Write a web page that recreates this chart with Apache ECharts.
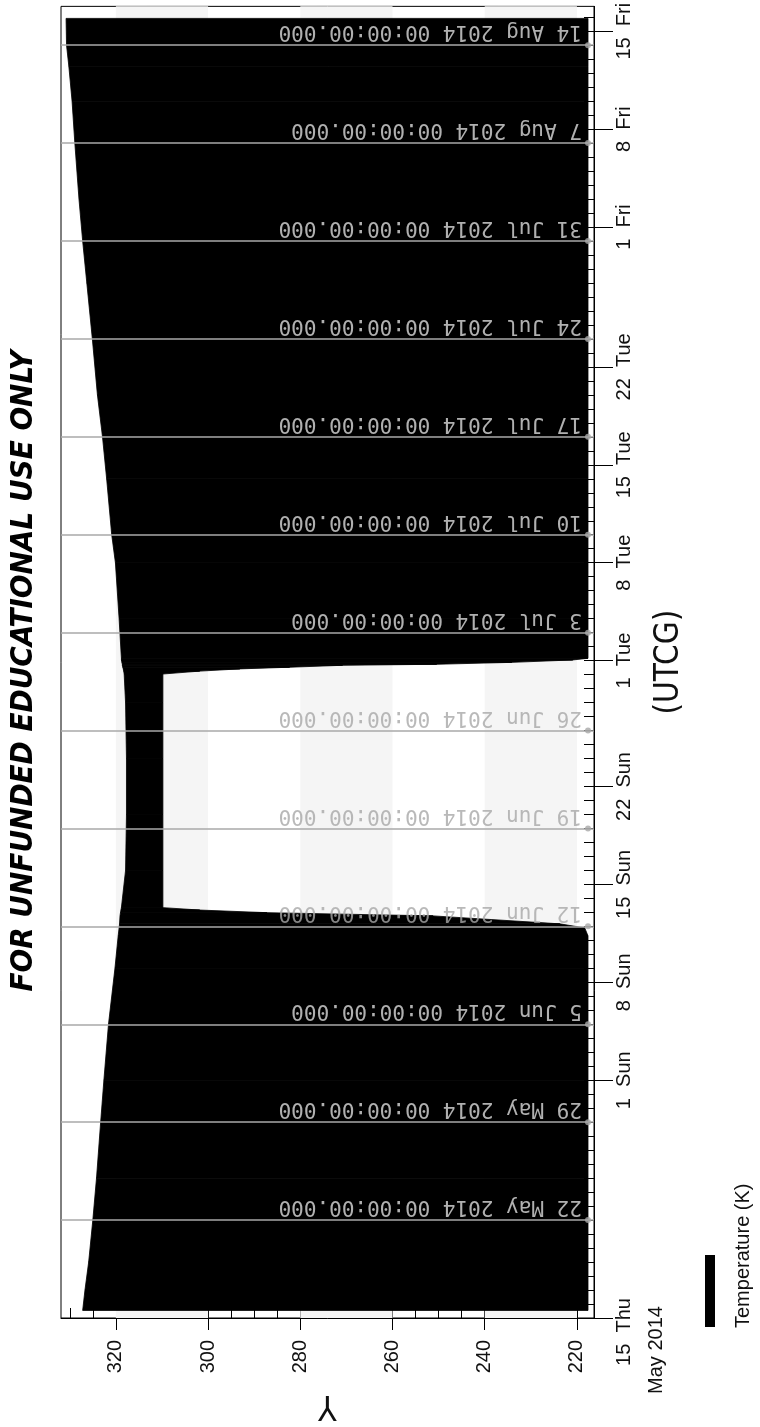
<!DOCTYPE html>
<html>
<head>
<meta charset="utf-8">
<script src="https://cdn.jsdelivr.net/npm/echarts@6/dist/echarts.min.js"></script>
<style>
html, body { margin: 0; padding: 0; background: #fff; }
#chart { width: 760px; height: 1427px; }
</style>
</head>
<body>
<div id="chart"></div>
<script>
// envelope of the temperature trace (K)
const sampleTimes = [
  '2014-05-15 13:00', '2014-05-17 00:00', '2014-05-19 00:00', '2014-05-22 00:00', '2014-05-25 00:00',
  '2014-05-29 00:00', '2014-06-01 00:00', '2014-06-05 00:00', '2014-06-09 00:00',
  '2014-06-11 07:40', '2014-06-11 21:20', '2014-06-12 04:20', '2014-06-12 18:00', '2014-06-12 23:30',
  '2014-06-13 04:00', '2014-06-13 08:10',
  '2014-06-16 00:00', '2014-06-20 00:00', '2014-06-24 00:00', '2014-06-28 00:00',
  '2014-06-30 01:00', '2014-06-30 06:00', '2014-06-30 09:50', '2014-06-30 12:40', '2014-06-30 16:00',
  '2014-06-30 17:45', '2014-06-30 21:00', '2014-07-01 01:10', '2014-07-01 04:00',
  '2014-07-04 00:00', '2014-07-08 00:00', '2014-07-10 00:00', '2014-07-14 00:00', '2014-07-17 00:00',
  '2014-07-20 00:00', '2014-07-24 00:00', '2014-07-28 00:00', '2014-07-31 00:00', '2014-08-03 00:00',
  '2014-08-07 00:00', '2014-08-10 00:00', '2014-08-12 12:00', '2014-08-14 00:00', '2014-08-15 22:00'
];
const upperTemp = [
  327.2, 326.7, 325.9, 325.0, 324.2,
  323.3, 322.6, 321.6, 320.2,
  319.5, 319.3, 319.2, 319.1, 319.0,
  318.9, 318.8,
  317.9, 317.7, 317.7, 317.9,
  318.2, 318.3, 318.4, 318.5, 318.6,
  318.6, 318.7, 318.8, 318.8,
  319.3, 320.1, 320.9, 322.0, 322.9,
  324.0, 325.1, 326.3, 327.2, 328.0,
  328.9, 329.5, 330.2, 330.7, 330.8
];
const lowerTemp = [
  217.6, 217.6, 217.6, 217.6, 217.6,
  217.6, 217.6, 217.6, 217.6,
  217.6, 218.3, 223.7, 251.2, 287.2,
  301.8, 309.8,
  309.8, 309.8, 309.8, 309.8,
  309.8, 301.8, 293.1, 282.3, 270.8,
  250.4, 234.1, 220.9, 217.6,
  217.6, 217.6, 217.6, 217.6, 217.6,
  217.6, 217.6, 217.6, 217.6, 217.6,
  217.6, 217.6, 217.6, 217.6, 217.6
];

const gridDates = ['2014-05-22', '2014-05-29', '2014-06-05', '2014-06-12', '2014-06-19', '2014-06-26',
  '2014-07-03', '2014-07-10', '2014-07-17', '2014-07-24', '2014-07-31', '2014-08-07', '2014-08-14'];
const timeTicks = ['2014-05-15', '2014-05-22', '2014-06-01', '2014-06-08', '2014-06-15', '2014-06-22',
  '2014-07-01', '2014-07-08', '2014-07-15', '2014-07-22', '2014-08-01', '2014-08-08', '2014-08-15'];
const tempTicks = [220, 240, 260, 280, 300, 320];
const tempMinorTicks = [220, 225, 230, 235, 240, 245, 250, 255, 260, 265, 270, 275, 280, 285, 290, 295,
  300, 305, 310, 315, 320, 325, 330];
const stripeBands = [[300, 320], [260, 280], [220, 240]];
const markerTemp = 217.6;

const timeMin = '2014-05-15 00:00';
const timeMax = '2014-08-16 18:40';
const tempMin = 216.3;
const tempMax = 331.9;

const WEEK = ['Sun', 'Mon', 'Tue', 'Wed', 'Thu', 'Fri', 'Sat'];
const MONTH = ['Jan', 'Feb', 'Mar', 'Apr', 'May', 'Jun', 'Jul', 'Aug', 'Sep', 'Oct', 'Nov', 'Dec'];
const DAY = 24 * 3600 * 1000;

function utc(s) {
  const parts = s.split(' ');
  const d = parts[0].split('-').map(Number);
  const t = (parts[1] || '00:00').split(':').map(Number);
  return Date.UTC(d[0], d[1] - 1, d[2], t[0], t[1]);
}
function pad(n) { return n < 10 ? '0' + n : '' + n; }

const bandData = sampleTimes.map((t, i) => [utc(t), upperTemp[i], lowerTemp[i]]);

// days where the minimum stays high (no eclipse) -> labels sit on light background
const warm = bandData.filter(r => r[2] > 250);
const warmStart = warm[0][0];
const warmEnd = warm[warm.length - 1][0];

// daily minor ticks on the time axis
const dayTicks = [];
for (let t = utc(timeMin); t <= utc(timeMax); t += DAY) dayTicks.push(t);
const majorTimes = timeTicks.map(utc);

const labelFont = '"Liberation Sans", Arial, sans-serif';
const narrowFont = '"Liberation Sans Narrow", "Arial Narrow", "DejaVu Sans Condensed", sans-serif';

const chart = echarts.init(document.getElementById('chart'));

const option = {
  animation: false,
  backgroundColor: '#fff',
  grid: {
    left: 61,
    right: 166,
    top: 6,
    bottom: 103,
    show: true,
    borderColor: '#000',
    borderWidth: 1,
    backgroundColor: 'transparent'
  },
  xAxis: [
    {
      type: 'value',
      inverse: true,
      min: tempMin,
      max: tempMax,
      position: 'bottom',
      axisLine: { show: true, lineStyle: { color: '#000', width: 1 } },
      axisTick: { show: true, inside: false, length: 12, customValues: tempTicks, lineStyle: { color: '#000' } },
      axisLabel: {
        customValues: tempTicks,
        showMinLabel: true,
        showMaxLabel: true,
        rotate: 90,
        margin: 22,
        fontSize: 20,
        fontFamily: labelFont,
        color: '#111'
      },
      splitLine: { show: false },
      name: 'Y',
      nameLocation: 'middle',
      nameGap: 70,
      nameRotate: 180,
      nameTextStyle: { fontSize: 34, fontFamily: narrowFont, color: '#111' }
    },
    {
      type: 'value',
      inverse: true,
      min: tempMin,
      max: tempMax,
      position: 'bottom',
      axisLine: { show: false },
      axisTick: { show: true, inside: true, length: 10, customValues: tempMinorTicks, lineStyle: { color: '#000' } },
      axisLabel: { show: false },
      splitLine: { show: false }
    }
  ],
  yAxis: [
    {
      type: 'value',
      min: utc(timeMin),
      max: utc(timeMax),
      position: 'right',
      axisLine: { show: true, lineStyle: { color: '#000', width: 1 } },
      axisTick: { show: true, inside: false, length: 19, customValues: majorTimes, lineStyle: { color: '#000' } },
      axisLabel: {
        customValues: majorTimes,
        showMinLabel: true,
        showMaxLabel: true,
        hideOverlap: false,
        rotate: 90,
        margin: 14,
        fontSize: 20,
        lineHeight: 32,
        fontFamily: labelFont,
        color: '#111',
        formatter: function (v) {
          const d = new Date(v);
          const s = d.getUTCDate() + '  ' + WEEK[d.getUTCDay()];
          if (v === majorTimes[0]) {
            return '{a|' + s + '}\n{m|' + MONTH[d.getUTCMonth()] + ' ' + d.getUTCFullYear() + '}';
          }
          return s;
        },
        rich: {
          a: { fontSize: 20, lineHeight: 32, fontFamily: labelFont, color: '#111', padding: [0, 28, 0, 0] },
          m: { fontSize: 20, lineHeight: 32, fontFamily: labelFont, color: '#111', padding: [0, 64, 0, 0] }
        }
      },
      splitLine: { show: false },
      name: '(UTCG)',
      nameLocation: 'middle',
      nameGap: 59,
      nameMoveOverlap: false,
      nameRotate: 90,
      nameTextStyle: { fontSize: 33, fontFamily: narrowFont, color: '#111' }
    },
    {
      type: 'value',
      min: utc(timeMin),
      max: utc(timeMax),
      position: 'right',
      axisLine: { show: false },
      axisTick: { show: true, inside: true, length: 10, customValues: dayTicks, lineStyle: { color: '#000' } },
      axisLabel: { show: false },
      splitLine: { show: false }
    }
  ],
  graphic: [
    {
      type: 'text',
      x: 24,
      y: 671,
      rotation: Math.PI / 2,
      style: {
        text: 'FOR UNFUNDED EDUCATIONAL USE ONLY',
        font: 'italic bold 31px ' + narrowFont,
        fill: '#000',
        textAlign: 'center',
        textVerticalAlign: 'middle'
      }
    },
    {
      type: 'rect',
      shape: { x: 705, y: 1255, width: 10, height: 72 },
      style: { fill: '#000' }
    },
    {
      type: 'text',
      x: 743,
      y: 1328,
      rotation: Math.PI / 2,
      style: {
        text: 'Temperature (K)',
        font: '20px ' + labelFont,
        fill: '#111',
        textAlign: 'left',
        textVerticalAlign: 'middle'
      }
    }
  ],
  series: [
    {
      // light stripes of the plot background
      type: 'line',
      xAxisIndex: 0,
      yAxisIndex: 0,
      data: [],
      z: 0,
      silent: true,
      markArea: {
        silent: true,
        itemStyle: { color: '#f5f5f5' },
        data: stripeBands.map(b => [{ xAxis: b[0] }, { xAxis: b[1] }])
      }
    },
    {
      name: 'Temperature (K)',
      type: 'custom',
      xAxisIndex: 0,
      yAxisIndex: 0,
      z: 2,
      clip: true,
      encode: { x: [1, 2], y: 0 },
      data: bandData,
      renderItem: function (params, api) {
        const i = params.dataIndex;
        if (i >= bandData.length - 1) return null;
        const a = bandData[i];
        const b = bandData[i + 1];
        const pts = [
          api.coord([a[1], a[0]]),
          api.coord([b[1], b[0]]),
          api.coord([b[2], b[0]]),
          api.coord([a[2], a[0]])
        ];
        return {
          type: 'polygon',
          shape: { points: pts },
          style: { fill: '#000', stroke: '#000', lineWidth: 0.8 }
        };
      }
    },
    {
      type: 'scatter',
      xAxisIndex: 0,
      yAxisIndex: 0,
      z: 3,
      silent: true,
      symbol: 'circle',
      symbolSize: 6,
      itemStyle: { color: '#a8a8a8' },
      data: gridDates.map(d => {
        const t = utc(d);
        const light = t + 1.1 * DAY > warmStart && t < warmEnd;
        return { value: [markerTemp, t], label: { color: light ? '#a8a8a8' : '#dcdcdc' } };
      }),
      label: {
        show: true,
        position: 'left',
        distance: 3,
        align: 'left',
        verticalAlign: 'top',
        rotate: 180,
        offset: [0, 3],
        fontSize: 21,
        fontFamily: '"DejaVu Sans Mono", "Liberation Mono", monospace',
        formatter: function (p) {
          const d = new Date(p.value[1]);
          return d.getUTCDate() + ' ' + MONTH[d.getUTCMonth()] + ' ' + d.getUTCFullYear() + ' ' +
            pad(d.getUTCHours()) + ':' + pad(d.getUTCMinutes()) + ':00.000';
        }
      },
      markLine: {
        silent: true,
        symbol: 'none',
        label: { show: false },
        lineStyle: { color: '#a8a8a8', width: 1.5, type: 'solid' },
        data: gridDates.map(d => ({ yAxis: utc(d) }))
      }
    }
  ]
};

chart.setOption(option);
</script>
</body>
</html>
